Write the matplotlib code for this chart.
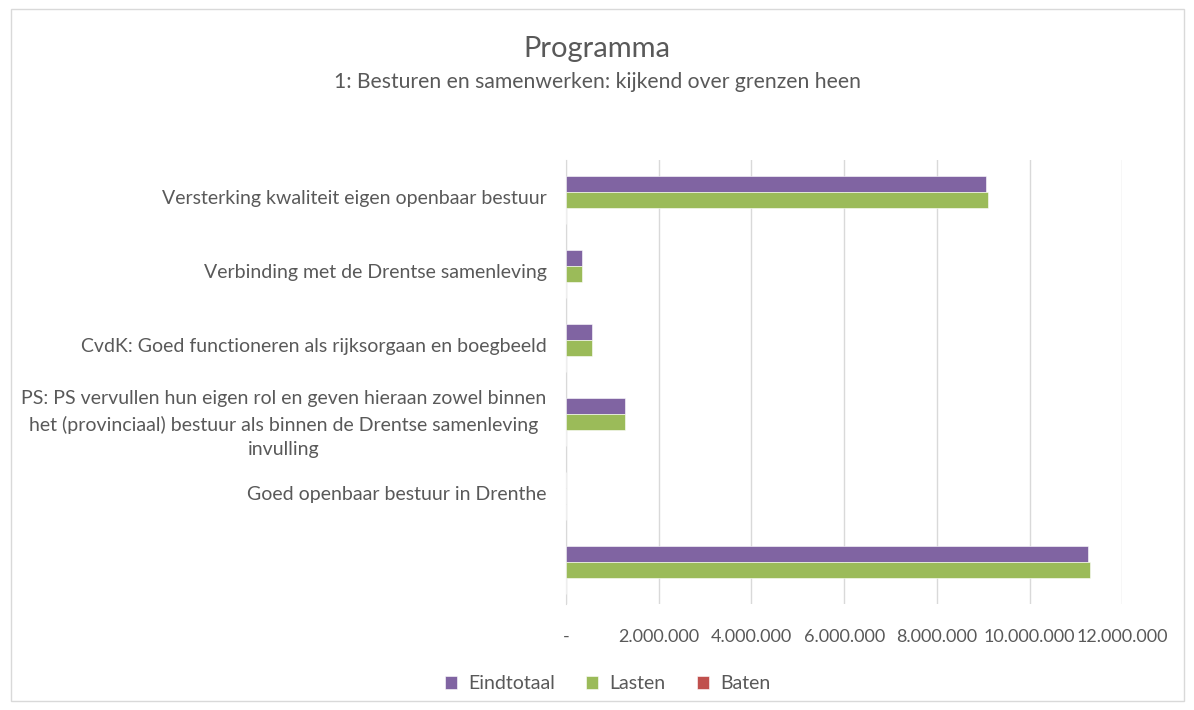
import matplotlib
matplotlib.use("Agg")
import matplotlib.pyplot as plt
import numpy as np
from matplotlib.ticker import FuncFormatter
from matplotlib.patches import Rectangle

plt.rcParams['font.family'] = ['Lato', 'DejaVu Sans']

# data, top to bottom
categories = [
    "Versterking kwaliteit eigen openbaar bestuur",
    "Verbinding met de Drentse samenleving",
    "CvdK: Goed functioneren als rijksorgaan en boegbeeld",
    "PS: PS vervullen hun eigen rol en geven hieraan zowel binnen\n"
    "het (provinciaal) bestuur als binnen de Drentse samenleving\ninvulling",
    "Goed openbaar bestuur in Drenthe",
    "",
]
eindtotaal = [9060000, 350000, 570000, 1280000, 0, 11260000]
lasten = [9100000, 350000, 570000, 1280000, 0, 11310000]
baten = [0, 0, 0, 0, 0, 0]

series = [("Eindtotaal", eindtotaal, "#8064A2"),
          ("Lasten", lasten, "#9BBB59"),
          ("Baten", baten, "#C0504D")]

fig = plt.figure(figsize=(11.94, 7.10), dpi=100)
ax = fig.add_axes([0.474, 0.149, 0.466, 0.626])

y = np.arange(len(categories))
h = 0.215
for k, (name, vals, col) in enumerate(series):
    ax.barh(y + (k - 1) * h + 0.04, vals, height=h, color=col, label=name,
            edgecolor="white", linewidth=0.4, zorder=3)

ax.set_ylim(len(categories) - 0.5, -0.5)
ax.set_xlim(0, 12000000)
ax.set_xticks(np.arange(0, 12000001, 2000000))

def fmt(v, pos):
    if v == 0:
        return "-"
    return f"{int(v):,}".replace(",", ".")

ax.xaxis.set_major_formatter(FuncFormatter(fmt))
ax.set_yticks(y)
ax.set_yticklabels(categories, multialignment="center", linespacing=1.55)
ax.tick_params(axis="y", length=0, labelsize=14, colors="#595959", pad=14)
ax.tick_params(axis="x", length=0, labelsize=13, colors="#595959", pad=18)
ax.grid(axis="x", color="#d9d9d9", linewidth=1, zorder=0)
for s in ["top", "right", "bottom"]:
    ax.spines[s].set_visible(False)
ax.spines["left"].set_color("#d9d9d9")

fig.text(0.5, 0.931, "Programma", ha="center", va="center", fontsize=21, color="#595959")
fig.text(0.5, 0.884, "1: Besturen en samenwerken: kijkend over grenzen heen",
         ha="center", va="center", fontsize=15.2, color="#595959")

fig.legend(loc="center", bbox_to_anchor=(0.509, 0.037), ncol=3, frameon=False,
           fontsize=14, handlelength=0.6, handleheight=0.6, handletextpad=0.6,
           columnspacing=1.6, labelcolor="#595959")

fig.patches.append(Rectangle((0.009, 0.012), 0.983, 0.975, transform=fig.transFigure,
                             fill=False, edgecolor="#d9d9d9", linewidth=1))

fig.savefig("out.png", dpi=100)
